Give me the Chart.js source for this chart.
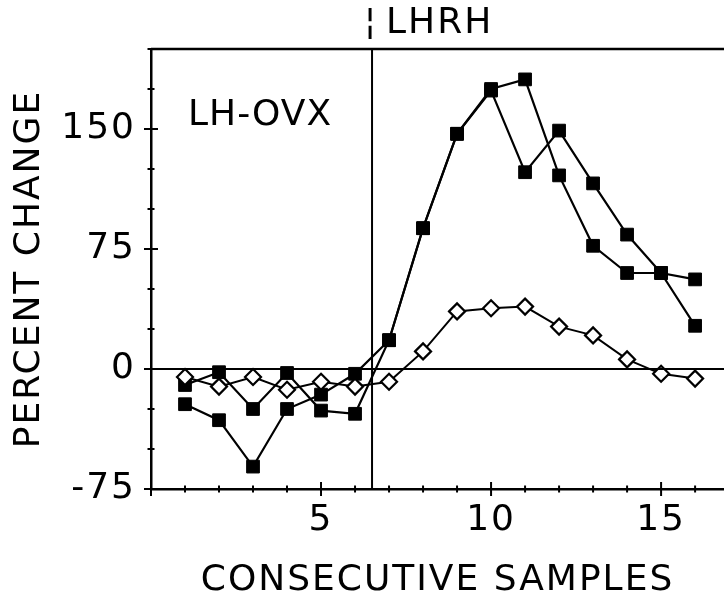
<!DOCTYPE html>
<html>
<head>
<meta charset="utf-8">
<script src="https://cdn.jsdelivr.net/npm/chart.js@4.4.0/dist/chart.umd.min.js"></script>
<style>
  html, body { margin: 0; padding: 0; background: #fff; }
  #wrap { width: 724px; height: 602px; }
</style>
</head>
<body>
<div id="wrap"><canvas id="c" width="724" height="602"></canvas></div>
<script>
// ---- data ----
const samples = [1, 2, 3, 4, 5, 6, 7, 8, 9, 10, 11, 12, 13, 14, 15, 16];
const seriesA = [-22, -32, -61, -25, -16, -3, 18, 88, 147, 175, 181, 121, 77, 60, 60, 27];
const seriesB = [-10, -2, -25, -2.5, -26, -28, 18, 88, 147, 174, 123, 149, 116, 84, 60, 56];
const seriesC = [-5, -11, -5, -13, -8, -11, -8, 11, 36, 38, 39, 26.5, 21, 6, -3, -6];
const yLabelTicks = [-75, 0, 75, 150];
const xLabelTicks = [5, 10, 15];
const lhrhAt = 6.5;
const groupLabel = 'LH-OVX';
const eventLabel = 'LHRH';
const xTitle = 'CONSECUTIVE SAMPLES';
const yTitle = 'PERCENT CHANGE';

const FONT = "'DejaVu Sans', sans-serif";
const WEIGHT = 'normal';

function pts(arr) { return samples.map((x, i) => ({ x: x, y: arr[i] })); }

const spacing = {
  id: 'spacing',
  beforeDraw(chart) { chart.ctx.letterSpacing = '2px'; }
};

const decor = {
  id: 'decor',
  afterDraw(chart) {
    const ctx = chart.ctx;
    const xs = chart.scales.x, ys = chart.scales.y;
    const area = chart.chartArea;
    ctx.save();
    ctx.strokeStyle = '#000';
    ctx.lineWidth = 2.5;
    // top border
    ctx.beginPath();
    ctx.moveTo(area.left, area.top);
    ctx.lineTo(area.right, area.top);
    ctx.stroke();
    // zero line
    const y0 = ys.getPixelForValue(0);
    ctx.lineWidth = 2;
    ctx.beginPath();
    ctx.moveTo(area.left, y0);
    ctx.lineTo(area.right, y0);
    ctx.stroke();
    // LHRH vertical line
    const xl = xs.getPixelForValue(lhrhAt);
    ctx.beginPath();
    ctx.moveTo(xl, area.top);
    ctx.lineTo(xl, area.bottom);
    ctx.stroke();
    // tick marks crossing axes
    ctx.lineWidth = 2;
    for (let v = -75; v <= 200; v += 25) {
      const py = ys.getPixelForValue(v);
      const len = (v % 75 === 0) ? 7 : 3.5;
      ctx.beginPath();
      ctx.moveTo(area.left - len, py);
      ctx.lineTo(area.left + len, py);
      ctx.stroke();
    }
    for (let i = 0; i <= 16; i++) {
      const px = xs.getPixelForValue(i);
      const len = (i % 5 === 0) ? 7 : 3.5;
      ctx.beginPath();
      ctx.moveTo(px, area.bottom - len);
      ctx.lineTo(px, area.bottom + len);
      ctx.stroke();
    }
    // labels
    ctx.fillStyle = '#000';
    ctx.letterSpacing = '2px';
    ctx.font = WEIGHT + " 36px " + FONT;
    ctx.textBaseline = 'middle';
    ctx.textAlign = 'left';
    ctx.fillText('\u00A6', xl - 8, 24);
    ctx.fillText(eventLabel, xl + 14, 24);
    ctx.letterSpacing = '1px';
    ctx.fillText(groupLabel, area.left + 37, 116);
    ctx.restore();
  }
};

new Chart(document.getElementById('c'), {
  type: 'line',
  data: {
    datasets: [
      {
        label: 'C', data: pts(seriesC), borderColor: '#000', borderWidth: 2,
        pointStyle: 'rectRot', pointRadius: 8, pointBorderWidth: 2.2,
        pointBackgroundColor: '#fff', pointBorderColor: '#000', tension: 0
      },
      {
        label: 'B', data: pts(seriesB), borderColor: '#000', borderWidth: 2.2,
        pointStyle: 'rect', pointRadius: 9, pointBorderWidth: 1,
        pointBackgroundColor: '#000', pointBorderColor: '#000', tension: 0
      },
      {
        label: 'A', data: pts(seriesA), borderColor: '#000', borderWidth: 2.2,
        pointStyle: 'rect', pointRadius: 9, pointBorderWidth: 1,
        pointBackgroundColor: '#000', pointBorderColor: '#000', tension: 0
      }
    ]
  },
  options: {
    responsive: false,
    animation: false,
    events: [],
    layout: { autoPadding: false, padding: { top: 49, right: 0, left: 0, bottom: 0 } },
    plugins: { legend: { display: false }, tooltip: { enabled: false }, title: { display: false } },
    scales: {
      x: {
        type: 'linear', min: 0, max: 16.85,
        afterFit(s) { s.height = 113; s.paddingRight = 0; s.paddingLeft = 0; },
        grid: { display: false, drawTicks: false },
        border: { display: true, color: '#000', width: 2.5 },
        ticks: {
          stepSize: 1, autoSkip: false, maxRotation: 0, padding: 10,
          color: '#000', font: { family: FONT, size: 36, weight: WEIGHT },
          callback: v => xLabelTicks.includes(v) ? String(v) : ''
        },
        title: { display: true, text: xTitle, color: '#000', font: { family: FONT, size: 36, weight: WEIGHT }, padding: { top: 0, bottom: 0 } }
      },
      y: {
        type: 'linear', min: -75, max: 200,
        afterFit(s) { s.width = 151; },
        grid: { display: false, drawTicks: false },
        border: { display: true, color: '#000', width: 2.5 },
        ticks: {
          stepSize: 25, autoSkip: false, padding: 15,
          color: '#000', font: { family: FONT, size: 36, weight: WEIGHT },
          callback: v => yLabelTicks.includes(v) ? String(v) : ''
        },
        title: { display: true, text: yTitle, color: '#000', font: { family: FONT, size: 36, weight: WEIGHT }, padding: { top: 8, bottom: 0 } }
      }
    }
  },
  plugins: [spacing, decor]
});
</script>
</body>
</html>
